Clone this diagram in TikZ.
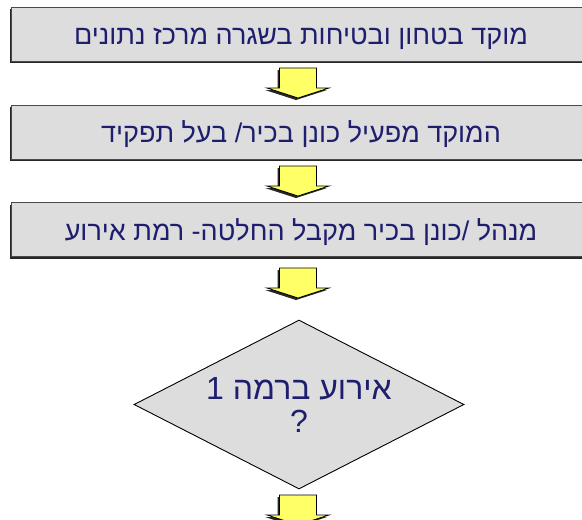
\documentclass[tikz,border=0pt]{standalone}
\usepackage{fontspec}
\setmainfont{Liberation Sans}
\newfontfamily\hebfont[Script=Hebrew]{Liberation Sans}
\TeXXeTstate=1
\usetikzlibrary{shapes.geometric,shadows}
\definecolor{boxgray}{HTML}{DDDDDD}
\definecolor{navytext}{HTML}{1E1E6E}
\definecolor{arrowyellow}{HTML}{FFFF66}
\definecolor{edgegray}{HTML}{4A4A4A}
\tikzset{
  hbox/.style={rectangle, fill=boxgray, draw=edgegray, line width=1pt,
    minimum width=579pt, minimum height=54pt, inner sep=0pt,
    text height=25pt, text depth=4pt,
    text=navytext, font=\hebfont\fontsize{27}{31}\selectfont,
    drop shadow={shadow xshift=-2pt, shadow yshift=-2pt, fill=black!85, opacity=1}},
  decision/.style={diamond, fill=boxgray, draw=black, line width=0.9pt,
    minimum width=330pt, minimum height=169pt, inner sep=0pt, aspect=1.95,
    text=navytext, align=center, font=\hebfont\fontsize{32}{33}\selectfont},
  blockarrow/.style={fill=arrowyellow, draw=black, line width=0.8pt, line join=miter},
  blockshadow/.style={fill=black!85},
  blockarr/.pic={
    \fill[blockshadow] (-20.5,2) -- (16.5,2) -- (16.5,22) -- (29,22) -- (-2,32) -- (-33,22) -- (-20.5,22) -- cycle;
    \draw[blockarrow] (-18.5,0) -- (18.5,0) -- (18.5,20) -- (31,20) -- (0,30) -- (-31,20) -- (-18.5,20) -- cycle;
  }
}
\begin{document}
\begin{tikzpicture}[x=1pt,y=-1pt]
\useasboundingbox (0,0) rectangle (582,520);
\clip (0,0) rectangle (582,520);
\node[hbox] (b1) at (301,34) {\beginR מוקד בטחון ובטיחות בשגרה מרכז נתונים\endR};
\node[hbox] (b2) at (301,132) {\beginR המוקד מפעיל כונן בכיר/ בעל תפקיד\endR};
\node[hbox] (b3) at (301,229.5) {\beginR מנהל /כונן בכיר מקבל החלטה- רמת אירוע\endR};
\node[decision] (d1) at (299,404.5) {\beginR אירוע ברמה 1\endR\\?};
\pic at (298,68) {blockarr};
\pic at (298,166) {blockarr};
\pic at (298,268) {blockarr};
\pic at (298,495) {blockarr};
\end{tikzpicture}
\end{document}
